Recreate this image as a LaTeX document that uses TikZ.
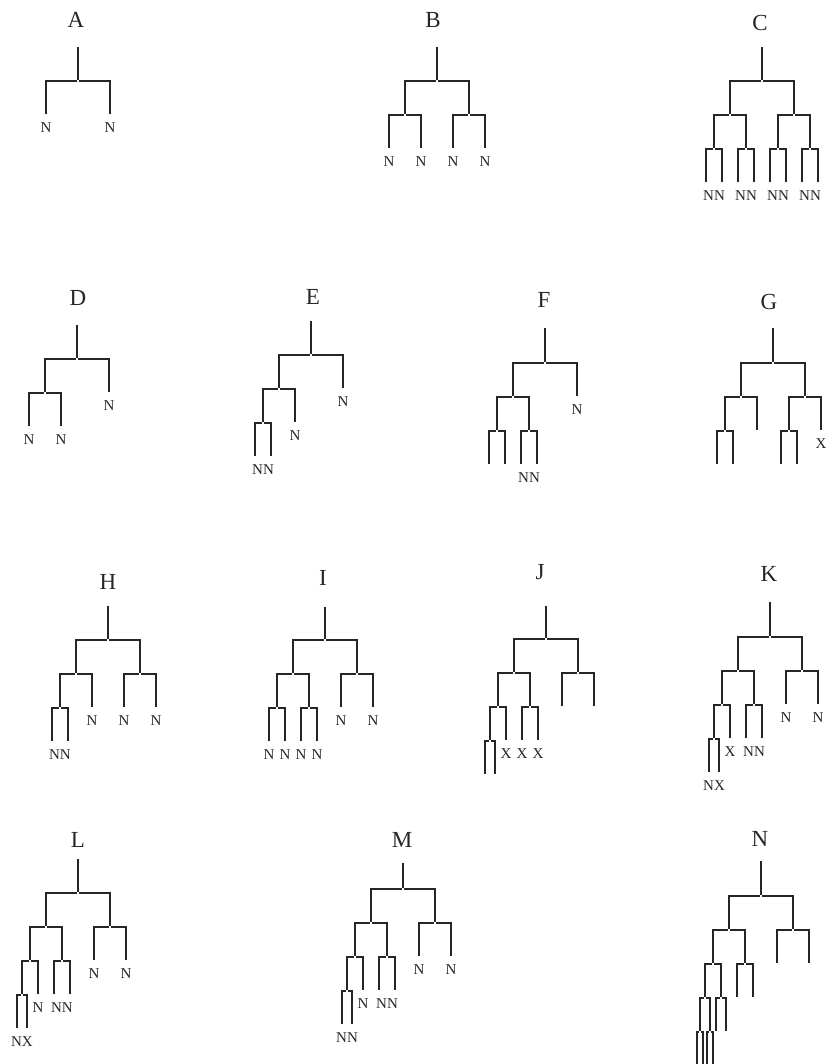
\documentclass[tikz,border=0pt]{standalone}
\usepackage{fontspec}
\setmainfont{Liberation Serif}
\usetikzlibrary{positioning}

\tikzset{
  dendro/.style={line width=2pt, draw=black!85, grow=down, level distance=34pt,
    edge from parent path={(\tikzparentnode) -| (\tikzchildnode)},
    level 1/.style={sibling distance=64pt},
    level 2/.style={sibling distance=32pt},
    level 3/.style={sibling distance=16pt},
    level 4/.style={sibling distance=10pt},
    level 5/.style={sibling distance=6pt}},
  pt/.style={inner sep=0pt, minimum size=0pt},
  every child node/.style={pt},
  stem/.style={line width=2pt, draw=black!85},
  every label/.style={font=\fontsize{15}{15}\selectfont, inner sep=1pt, text=black!85},
  label distance=5pt,
  lN/.style={label=below:N},
  lX/.style={label=below:X},
  pair/.style={label={[yshift=-34pt]below:#1}},
  title/.style={font=\fontsize{23}{23}\selectfont, text=black!85}
}

\begin{document}
\begin{tikzpicture}[x=1pt, y=1pt]
  \useasboundingbox (0,0) rectangle (835,-1064);

  % Tree A
  \draw[dendro] (78,-81) node[pt] (rA) {}
    child {node[lN] {}}
    child {node[lN] {}};

  % Tree B
  \draw[dendro] (437,-81) node[pt] (rB) {}
    child {node {} child {node[lN] {}} child {node[lN] {}}}
    child {node {} child {node[lN] {}} child {node[lN] {}}};

  % Tree C
  \draw[dendro] (762,-81) node[pt] (rC) {}
    child {node {}
      child {node[pair=NN] {} child {node {}} child {node {}}}
      child {node[pair=NN] {} child {node {}} child {node {}}}}
    child {node {}
      child {node[pair=NN] {} child {node {}} child {node {}}}
      child {node[pair=NN] {} child {node {}} child {node {}}}};

  % Tree D
  \draw[dendro] (77,-359) node[pt] (rD) {}
    child {node {} child {node[lN] {}} child {node[lN] {}}}
    child {node[lN] {}};

  % Tree E
  \draw[dendro] (311,-355) node[pt] (rE) {}
    child {node {}
      child {node[pair=NN] {} child {node {}} child {node {}}}
      child {node[lN] {}}}
    child {node[lN] {}};

  % Tree F
  \draw[dendro] (545,-363) node[pt] (rF) {}
    child {node {}
      child {node {} child {node {}} child {node {}}}
      child {node[pair=NN] {} child {node {}} child {node {}}}}
    child {node[lN] {}};

  % Tree G
  \draw[dendro] (773,-363) node[pt] (rG) {}
    child {node {}
      child {node {} child {node {}} child {node {}}}
      child {node {}}}
    child {node {}
      child {node {} child {node {}} child {node {}}}
      child {node[lX] {}}};

  % Tree H
  \draw[dendro] (108,-640) node[pt] (rH) {}
    child {node {}
      child {node[pair=NN] {} child {node {}} child {node {}}}
      child {node[lN] {}}}
    child {node {} child {node[lN] {}} child {node[lN] {}}};

  % Tree I
  \draw[dendro] (325,-640) node[pt] (rI) {}
    child {node {}
      child {node {} child {node[lN] {}} child {node[lN] {}}}
      child {node {} child {node[lN] {}} child {node[lN] {}}}}
    child {node {} child {node[lN] {}} child {node[lN] {}}};

  % Tree J
  \draw[dendro] (546,-639) node[pt] (rJ) {}
    child {node {}
      child {node {}
        child {node {} child {node {}} child {node {}}}
        child {node[lX] {}}}
      child {node {} child {node[lX] {}} child {node[lX] {}}}}
    child {node {} child {node {}} child {node {}}};

  % Tree K
  \draw[dendro] (770,-637) node[pt] (rK) {}
    child {node {}
      child {node {}
        child {node[pair=NX] {} child {node {}} child {node {}}}
        child {node[lX] {}}}
      child {node[pair=NN] {} child {node {}} child {node {}}}}
    child {node {} child {node[lN] {}} child {node[lN] {}}};

  % Tree L
  \draw[dendro] (78,-893) node[pt] (rL) {}
    child {node {}
      child {node {}
        child {node[pair=NX] {} child {node {}} child {node {}}}
        child {node[lN] {}}}
      child {node[pair=NN] {} child {node {}} child {node {}}}}
    child {node {} child {node[lN] {}} child {node[lN] {}}};

  % Tree M
  \draw[dendro] (403,-889) node[pt] (rM) {}
    child {node {}
      child {node {}
        child {node[pair=NN] {} child {node {}} child {node {}}}
        child {node[lN] {}}}
      child {node[pair=NN] {} child {node {}} child {node {}}}}
    child {node {} child {node[lN] {}} child {node[lN] {}}};

  % Tree N
  \draw[dendro] (761,-896) node[pt] (rN) {}
    child {node {}
      child {node {}
        child {node {}
          child {node {} child {node {}} child {node {}}}
          child {node {} child {node {}} child {node {}}}}
        child {node {} child {node {}} child {node {}}}}
      child {node {} child {node {}} child {node {}}}}
    child {node {} child {node {}} child {node {}}};

  % Stems and titles
  \foreach \t/\h in {A/34,B/34,C/34,D/34,E/34,F/35,G/35,H/34,I/33,J/33,K/35,L/34,M/26,N/35}
    \draw[stem] (r\t) -- ++(0,\h);
  \foreach \t/\x/\y in {A/76/20,B/433/20,C/760/23,D/78/298,E/313/297,F/544/300,G/769/302,
                        H/108/582,I/323/578,J/540/572,K/769/574,L/78/840,M/402/840,N/760/839}
    \node[title] (h\t) at (\x,-\y) {\t};
\end{tikzpicture}
\end{document}
